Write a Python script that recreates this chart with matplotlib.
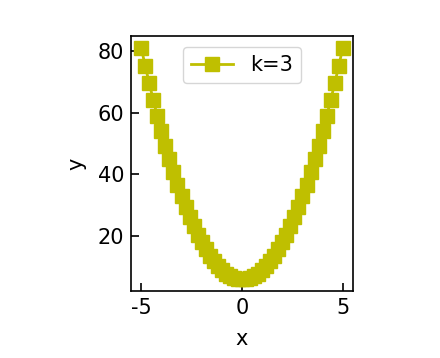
import matplotlib
matplotlib.use("Agg")
import matplotlib.pyplot as plt

x_vals = [-5.0, -4.8, -4.6, -4.4, -4.2, -4.0, -3.8, -3.6, -3.4, -3.2, -3.0,
          -2.8, -2.6, -2.4, -2.2, -2.0, -1.8, -1.6, -1.4, -1.2, -1.0,
          -0.8, -0.6, -0.4, -0.2, 0.0, 0.2, 0.4, 0.6, 0.8, 1.0,
          1.2, 1.4, 1.6, 1.8, 2.0, 2.2, 2.4, 2.6, 2.8, 3.0,
          3.2, 3.4, 3.6, 3.8, 4.0, 4.2, 4.4, 4.6, 4.8, 5.0]
half = [81.0, 75.12, 69.48, 64.08, 58.92, 54.0, 49.32, 44.88, 40.68, 36.72, 33.0,
        29.52, 26.28, 23.28, 20.52, 18.0, 15.72, 13.68, 11.88, 10.32, 9.0,
        7.92, 7.08, 6.48, 6.12]
y_vals = half + [6.0] + half[::-1]
series_label = "k=3"

plt.rcParams['axes.unicode_minus'] = False
fig = plt.figure(figsize=(4.4, 3.58), dpi=100)
ax = fig.add_axes([0.298, 0.187, 0.504, 0.712])
ax.plot(x_vals, y_vals, color='y', marker='s', markersize=10, linewidth=2, label=series_label)
ax.set_xticks([-5, 0, 5])
ax.set_yticks([20, 40, 60, 80])
ax.tick_params(direction='in', labelsize=15, length=6, width=1.2, pad=5)
ax.set_xlabel("x", fontsize=15, labelpad=8)
ax.set_ylabel("y", fontsize=15, labelpad=8)
for s in ax.spines.values():
    s.set_linewidth(1.2)
ax.legend(loc='upper center', fontsize=15)
fig.savefig("out.png", dpi=100)
